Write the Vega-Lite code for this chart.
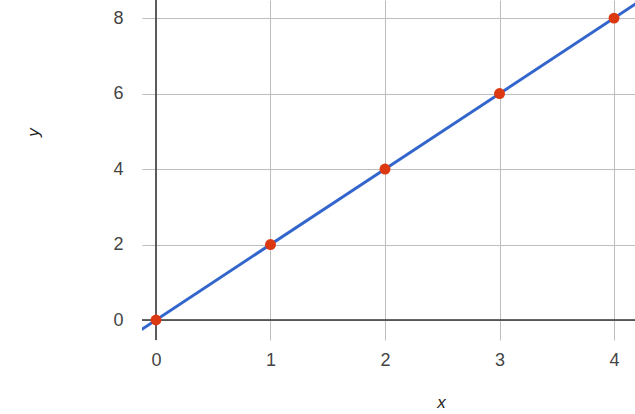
{
  "$schema": "https://vega.github.io/schema/vega-lite/v6.json",
  "width": 493,
  "height": 340,
  "autosize": {"type": "none"},
  "padding": {"left": 142, "top": 0, "right": 0, "bottom": 74},
  "background": "white",
  "config": {
    "view": {"stroke": null},
    "axis": {"labelFont": "Liberation Sans", "titleFont": "Liberation Sans", "labelColor": "#444444", "titleColor": "#222222", "labelFontSize": 18, "titleFontSize": 17, "titleFontWeight": "normal", "titleFontStyle": "italic", "gridColor": "#bdbdbd", "gridWidth": 1, "domain": false, "ticks": false, "format": "d"}
  },
  "datasets": {
    "pts": [
      {"x": 0, "y": 0},
      {"x": 1, "y": 2},
      {"x": 2, "y": 4},
      {"x": 3, "y": 6},
      {"x": 4, "y": 8}
    ],
    "trend": [
      {"x": -0.3, "y": -0.6},
      {"x": 4.5, "y": 9}
    ],
    "zx": [{"v": 0}],
    "zy": [{"v": 0}]
  },
  "layer": [
    {
      "data": {"name": "pts"},
      "mark": {"type": "point", "opacity": 0},
      "encoding": {
        "x": {"field": "x", "type": "quantitative", "scale": {"domain": [-0.122, 4.183], "nice": false, "zero": false},
          "axis": {"values": [0, 1, 2, 3, 4], "format": "d", "grid": true, "labelPadding": 11, "title": "x", "titleX": 299, "titleY": 62, "titleAnchor": null, "titleBaseline": "middle"}},
        "y": {"field": "y", "type": "quantitative", "scale": {"domain": [-0.53, 8.48], "nice": false, "zero": false},
          "axis": {"values": [0, 2, 4, 6, 8], "format": "d", "grid": true, "labelPadding": 19, "title": "y", "titleX": -109, "titleY": 132, "titleAngle": -90, "titleBaseline": "middle"}}
      }
    },
    {
      "data": {"name": "zx"},
      "mark": {"type": "rule", "color": "#333333", "strokeWidth": 1.5},
      "encoding": {"x": {"field": "v", "type": "quantitative"}}
    },
    {
      "data": {"name": "zy"},
      "mark": {"type": "rule", "color": "#333333", "strokeWidth": 1.5},
      "encoding": {"y": {"field": "v", "type": "quantitative"}}
    },
    {
      "data": {"name": "trend"},
      "mark": {"type": "line", "color": "#3366cc", "strokeWidth": 3, "clip": true},
      "encoding": {
        "x": {"field": "x", "type": "quantitative"},
        "y": {"field": "y", "type": "quantitative"}
      }
    },
    {
      "data": {"name": "pts"},
      "mark": {"type": "circle", "color": "#dc3912", "opacity": 1, "size": 120},
      "encoding": {
        "x": {"field": "x", "type": "quantitative"},
        "y": {"field": "y", "type": "quantitative"}
      }
    }
  ]
}
